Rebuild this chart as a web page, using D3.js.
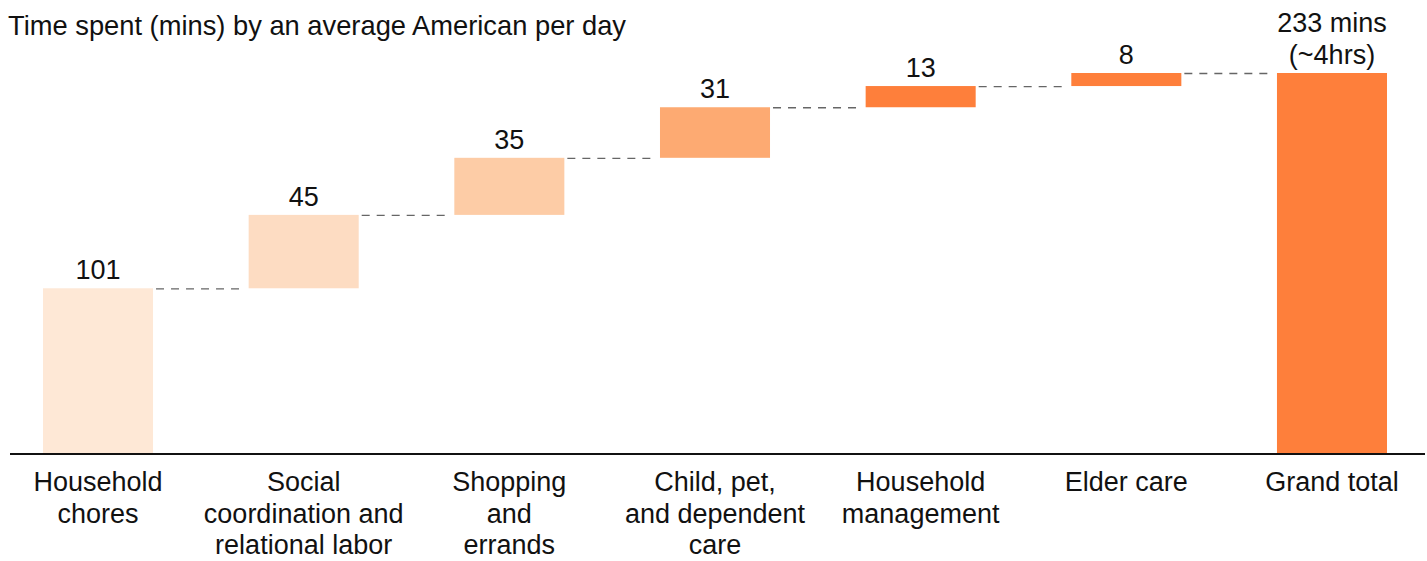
<!DOCTYPE html>
<html><head><meta charset="utf-8"><title>Time spent waterfall</title>
<style>
  body { margin: 0; background: #fff; }
  svg text { font-family: "Liberation Sans", Arial, Helvetica, sans-serif; fill: #111; }
</style>
</head>
<body>
<svg id="chart" width="1427" height="561"></svg>
<script src="https://d3js.org/d3.v7.min.js"></script>
<script>
const categories = [
  ["Household", "chores"],
  ["Social", "coordination and", "relational labor"],
  ["Shopping", "and", "errands"],
  ["Child, pet,", "and dependent", "care"],
  ["Household", "management"],
  ["Elder care"],
  ["Grand total"]
];
const values = [101, 45, 35, 31, 13, 8];
const total = 233;
const valueLabels = [["101"], ["45"], ["35"], ["31"], ["13"], ["8"], ["233 mins", "(~4hrs)"]];
const colors = ["#fee8d6", "#fddcc2", "#fdcca6", "#fdaa72", "#fe7f3b", "#fe7f3b", "#fe7f3b"];
const title = "Time spent (mins) by an average American per day";

// build steps
let run = 0;
const steps = values.map((v, i) => {
  const s = { i, start: run, end: run + v };
  run += v;
  return s;
});
steps.push({ i: values.length, start: 0, end: total });

const svg = d3.select("#chart");
const baseY = 453;

const x = d3.scaleBand()
  .domain(d3.range(categories.length))
  .range([43, 1387])
  .paddingInner(0.465)
  .paddingOuter(0);

const y = d3.scaleLinear().domain([0, total]).range([baseY, 73]);

svg.append("text")
  .attr("x", 8).attr("y", 35)
  .attr("font-size", 27.3)
  .text(title);

// connectors
svg.append("g").selectAll("line")
  .data(steps.slice(0, -1))
  .join("line")
  .attr("x1", d => x(d.i) + x.bandwidth() + 3)
  .attr("x2", d => x(d.i + 1) - 3)
  .attr("y1", d => y(d.end) + 0.5)
  .attr("y2", d => y(d.end) + 0.5)
  .attr("stroke", "#666")
  .attr("stroke-width", 1.3)
  .attr("stroke-dasharray", "8,7");

// bars
svg.append("g").selectAll("rect")
  .data(steps)
  .join("rect")
  .attr("x", d => x(d.i))
  .attr("width", x.bandwidth())
  .attr("y", d => y(d.end))
  .attr("height", d => y(d.start) - y(d.end))
  .attr("fill", (d, i) => colors[i]);

// value labels
steps.forEach((d, i) => {
  const lines = valueLabels[i];
  const t = svg.append("text")
    .attr("text-anchor", "middle")
    .attr("font-size", 27);
  lines.forEach((l, k) => {
    t.append("tspan")
      .attr("x", x(d.i) + x.bandwidth() / 2)
      .attr("y", y(d.end) - 9 - (lines.length - 1 - k) * 32)
      .text(l);
  });
});

// baseline axis
svg.append("line")
  .attr("x1", 10).attr("x2", 1425)
  .attr("y1", baseY + 1).attr("y2", baseY + 1)
  .attr("stroke", "#111").attr("stroke-width", 2);

// category labels
categories.forEach((lines, i) => {
  const t = svg.append("text")
    .attr("text-anchor", "middle")
    .attr("font-size", 27);
  lines.forEach((l, k) => {
    t.append("tspan")
      .attr("x", x(i) + x.bandwidth() / 2)
      .attr("y", 491 + k * 31.5)
      .text(l);
  });
});
</script>
</body>
</html>
